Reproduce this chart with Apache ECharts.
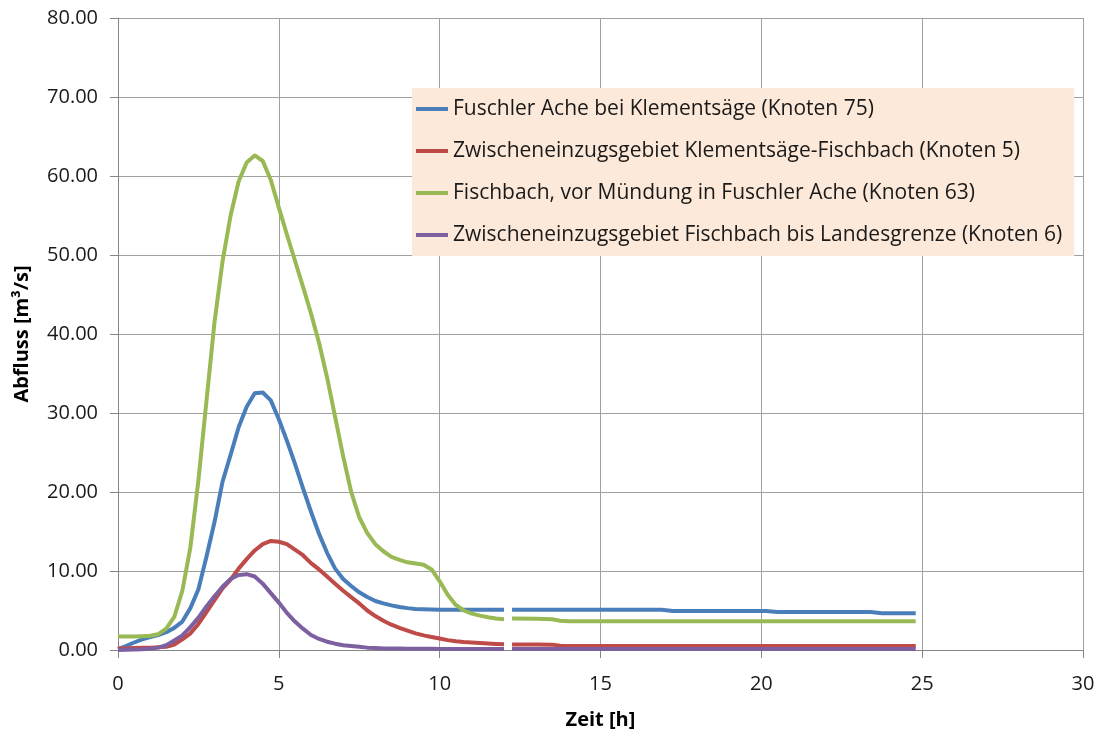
<!DOCTYPE html>
<html>
<head>
<meta charset="utf-8">
<script src="https://cdn.jsdelivr.net/npm/echarts@6/dist/echarts.min.js"></script>
<style>
  html, body { margin: 0; padding: 0; background: #fff; }
  #abfluss { width: 1099px; height: 731px; }
</style>
</head>
<body>
<div id="abfluss"></div>
<script>
// Zeitachse [h] - 12.1 ist die Lücke in den Daten
var hours = [0, 0.25, 0.5, 0.75, 1, 1.25, 1.5, 1.75, 2, 2.25, 2.5, 2.75, 3, 3.25, 3.5, 3.75,
    4, 4.25, 4.5, 4.75, 5, 5.25, 5.5, 5.75, 6, 6.25, 6.5, 6.75, 7, 7.25, 7.5, 7.75,
    8, 8.25, 8.5, 8.75, 9, 9.25, 9.5, 9.75, 10, 10.25, 10.5, 10.75, 11, 11.25, 11.5, 11.75, 12,
    12.1,
    12.25, 13, 13.5, 13.75, 14, 15, 16, 16.9, 17.25, 18, 19, 20, 20.15, 20.5, 21, 22, 23, 23.4, 23.75, 24, 24.8];

var names = [
    'Fuschler Ache bei Klementsäge (Knoten 75)',
    'Zwischeneinzugsgebiet Klementsäge-Fischbach (Knoten 5)',
    'Fischbach, vor Mündung in Fuschler Ache (Knoten 63)',
    'Zwischeneinzugsgebiet Fischbach bis Landesgrenze (Knoten 6)'
];

var knoten75 = [0.1, 0.5, 0.95, 1.35, 1.65, 1.9, 2.25, 2.8, 3.6, 5.3, 7.7, 11.8, 16.2, 21.3, 24.7, 28.2,
    30.8, 32.5, 32.6, 31.6, 29.2, 26.5, 23.6, 20.5, 17.5, 14.7, 12.3, 10.3, 9.0, 8.1, 7.3, 6.7,
    6.2, 5.9, 5.65, 5.45, 5.3, 5.2, 5.15, 5.12, 5.1, 5.1, 5.1, 5.1, 5.1, 5.1, 5.1, 5.1, 5.1,
    null,
    5.1, 5.1, 5.1, 5.1, 5.1, 5.1, 5.1, 5.1, 4.95, 4.95, 4.95, 4.95, 4.95, 4.8, 4.8, 4.8, 4.8, 4.8, 4.65, 4.65, 4.65];

var knoten5 = [0.2, 0.2, 0.25, 0.3, 0.3, 0.35, 0.4, 0.7, 1.35, 2.1, 3.3, 4.8, 6.3, 7.8, 8.9, 10.3,
    11.5, 12.6, 13.4, 13.8, 13.7, 13.4, 12.7, 12.0, 11.0, 10.2, 9.3, 8.4, 7.5, 6.7, 5.9, 5.0,
    4.3, 3.7, 3.2, 2.8, 2.45, 2.1, 1.85, 1.65, 1.45, 1.25, 1.12, 1.02, 0.95, 0.88, 0.82, 0.77, 0.72,
    null,
    0.7, 0.7, 0.68, 0.55, 0.5, 0.5, 0.5, 0.5, 0.5, 0.5, 0.5, 0.5, 0.5, 0.5, 0.5, 0.5, 0.5, 0.5, 0.5, 0.5, 0.5];

var knoten63 = [1.7, 1.7, 1.72, 1.75, 1.8, 2.0, 2.7, 4.2, 7.5, 13.0, 21.5, 31.5, 41.5, 49.2, 55.0, 59.3,
    61.7, 62.6, 61.9, 59.5, 56.0, 52.6, 49.3, 46.0, 42.6, 38.9, 34.5, 29.5, 24.5, 20.0, 16.8, 14.8,
    13.4, 12.5, 11.8, 11.4, 11.1, 10.95, 10.8, 10.2, 8.7, 7.0, 5.7, 5.0, 4.6, 4.35, 4.15, 4.0, 3.9,
    null,
    4.0, 3.95, 3.9, 3.7, 3.65, 3.65, 3.65, 3.65, 3.65, 3.65, 3.65, 3.65, 3.65, 3.65, 3.65, 3.65, 3.65, 3.65, 3.65, 3.65, 3.65];

var knoten6 = [0.0, 0.02, 0.05, 0.08, 0.15, 0.3, 0.6, 1.2, 1.85, 2.9, 4.1, 5.5, 6.8, 8.0, 9.0, 9.5,
    9.6, 9.3, 8.4, 7.2, 6.0, 4.7, 3.6, 2.7, 1.9, 1.4, 1.05, 0.8, 0.6, 0.5, 0.4, 0.3,
    0.25, 0.2, 0.2, 0.18, 0.17, 0.16, 0.15, 0.15, 0.14, 0.14, 0.14, 0.14, 0.13, 0.13, 0.13, 0.13, 0.13,
    null,
    0.13, 0.13, 0.13, 0.13, 0.13, 0.13, 0.13, 0.13, 0.13, 0.13, 0.13, 0.13, 0.13, 0.13, 0.13, 0.13, 0.13, 0.13, 0.13, 0.13, 0.13];

var colors = ['#4A7EBB', '#BE4B48', '#98B954', '#7D60A0'];
var fontName = '"Open Sans", Lato, sans-serif';

function pairs(values) {
    var out = [];
    for (var i = 0; i < hours.length; i++) {
        out.push([hours[i], values[i]]);
    }
    return out;
}

function makeSeries(idx, values) {
    return {
        name: names[idx],
        type: 'line',
        data: pairs(values),
        showSymbol: false,
        symbol: 'none',
        connectNulls: false,
        lineStyle: { width: 4, color: colors[idx], cap: 'butt', join: 'round' },
        itemStyle: { color: colors[idx] }
    };
}

var abflussChart = echarts.init(document.getElementById('abfluss'));

var option = {
    animation: false,
    grid: { left: 118, right: 16, top: 18, bottom: 81, containLabel: false, outerBoundsMode: 'none' },
    legend: {
        orient: 'vertical',
        left: 412,
        top: 88,
        backgroundColor: '#FDE9D9',
        padding: [9, 12, 9, 4],
        itemGap: 18,
        itemWidth: 32,
        itemHeight: 4,
        icon: 'rect',
        textStyle: { fontFamily: fontName, fontSize: 21, color: '#1a1a1a', lineHeight: 24 },
        data: names
    },
    xAxis: {
        type: 'value',
        min: 0,
        max: 30,
        interval: 5,
        name: 'Zeit [h]',
        nameLocation: 'middle',
        nameGap: 60,
        nameMoveOverlap: false,
        nameTextStyle: { fontFamily: fontName, fontSize: 20, fontWeight: 'bold', color: '#000' },
        axisLine: { show: true, onZero: false, lineStyle: { color: '#868686', width: 1 } },
        axisTick: { show: true, length: 8, lineStyle: { color: '#868686' } },
        axisLabel: { fontFamily: fontName, fontSize: 20, color: '#1a1a1a', margin: 24 },
        splitLine: { show: true, lineStyle: { color: '#a0a0a0', width: 1 } }
    },
    yAxis: {
        type: 'value',
        min: 0,
        max: 80,
        interval: 10,
        name: 'Abfluss [m³/s]',
        nameLocation: 'middle',
        nameRotate: 90,
        nameGap: 86,
        nameMoveOverlap: false,
        nameTextStyle: { fontFamily: fontName, fontSize: 20, fontWeight: 'bold', color: '#000' },
        axisLine: { show: true, lineStyle: { color: '#868686', width: 1 } },
        axisTick: { show: true, length: 8, lineStyle: { color: '#868686' } },
        axisLabel: {
            fontFamily: fontName, fontSize: 20, color: '#1a1a1a', margin: 20,
            formatter: function (v) { return v.toFixed(2); }
        },
        splitLine: { show: true, lineStyle: { color: '#a0a0a0', width: 1 } }
    },
    series: [
        makeSeries(0, knoten75),
        makeSeries(1, knoten5),
        makeSeries(2, knoten63),
        makeSeries(3, knoten6)
    ]
};

abflussChart.setOption(option);
</script>
</body>
</html>
